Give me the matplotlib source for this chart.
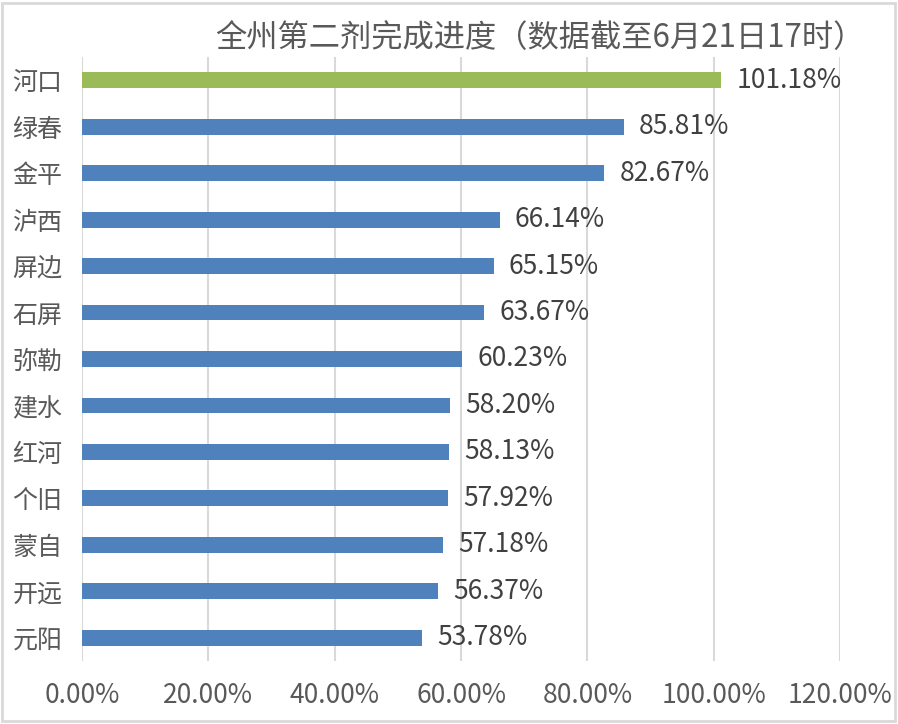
import matplotlib.pyplot as plt
import matplotlib.patches as patches
from matplotlib.ticker import FuncFormatter

plt.rcParams['font.family'] = ['Noto Sans CJK SC', 'DejaVu Sans']

# data
regions = ["河口", "绿春", "金平", "泸西", "屏边", "石屏", "弥勒", "建水", "红河", "个旧", "蒙自", "开远", "元阳"]
progress = [101.18, 85.81, 82.67, 66.14, 65.15, 63.67, 60.23, 58.20, 58.13, 57.92, 57.18, 56.37, 53.78]
bar_colors = ["#9bbb59"] + ["#4f81bd"] * 12
xticks = [0, 20, 40, 60, 80, 100, 120]

text_color = "#595959"
grid_color = "#d9d9d9"

fig = plt.figure(figsize=(8.98, 7.24), dpi=100)
ax = fig.add_axes([82/898, 1 - 661/724, 758/898, 604/724])

y = list(range(len(regions)))
ax.barh(y, progress, height=0.34, color=bar_colors, zorder=3)

# value labels
for i, v in enumerate(progress):
    ax.text(v + 2.4, i, f"{v:.2f}%", va="center", ha="left",
            fontsize=19, color="#404040")

ax.set_xlim(0, 120)
ax.set_ylim(12.5, -0.5)
ax.set_xticks(xticks)
ax.xaxis.set_major_formatter(FuncFormatter(lambda x, p: f"{x:.2f}%"))
ax.set_yticks(y)
ax.set_yticklabels(regions)

ax.grid(axis="x", color=grid_color, linewidth=1.5, zorder=0)
for s in ax.spines.values():
    s.set_visible(False)
ax.tick_params(axis="x", length=0, labelsize=19, colors=text_color, pad=15)
ax.tick_params(axis="y", length=0, labelsize=18, colors=text_color, pad=14)

fig.text(540/898, 1 - 38/724, "全州第二剂完成进度（数据截至6月21日17时）",
         ha="center", va="center", fontsize=22.5, color=text_color)

# chart border
fig.patches.append(patches.Rectangle((2/898, 3/724), 893/898, 718/724,
                                     transform=fig.transFigure, fill=False,
                                     edgecolor=grid_color, linewidth=2))

fig.savefig("out.png", dpi=100, facecolor="white")
